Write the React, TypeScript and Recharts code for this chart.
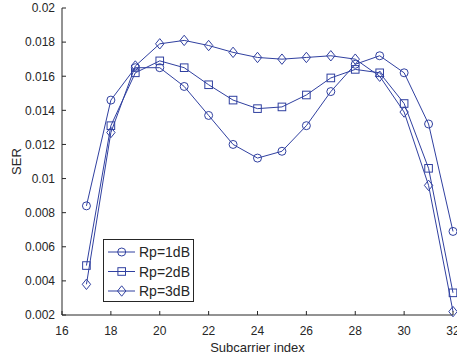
import React from "react";
import { LineChart, Line, XAxis, YAxis } from "recharts";

const subcarriers = [17, 18, 19, 20, 21, 22, 23, 24, 25, 26, 27, 28, 29, 30, 31, 32];
const ser1dB = [0.0084, 0.0146, 0.0165, 0.0165, 0.0154, 0.0137, 0.012, 0.0112, 0.0116, 0.0131, 0.0151, 0.0167, 0.0172, 0.0162, 0.0132, 0.0069];
const ser2dB = [0.0049, 0.0131, 0.0162, 0.0169, 0.0165, 0.0155, 0.0146, 0.0141, 0.0142, 0.0149, 0.0159, 0.0164, 0.0162, 0.0144, 0.0106, 0.0033];
const ser3dB = [0.0038, 0.0127, 0.0166, 0.0179, 0.0181, 0.0178, 0.0174, 0.0171, 0.017, 0.0171, 0.0172, 0.017, 0.016, 0.0139, 0.0096, 0.0022];
const seriesNames = ["Rp=1dB", "Rp=2dB", "Rp=3dB"];
const xTicks = [16, 18, 20, 22, 24, 26, 28, 30, 32];
const yTicks = [0.002, 0.004, 0.006, 0.008, 0.01, 0.012, 0.014, 0.016, 0.018, 0.02];

const data = subcarriers.map((x, i) => ({ x, a: ser1dB[i], b: ser2dB[i], c: ser3dB[i] }));

const LINE = "#3040a0";
const AXIS = "#262626";
const FONT = "'Liberation Sans', Arial, Helvetica, sans-serif";

const CircleDot = (p: any) => (
  <circle key={p.key} cx={p.cx} cy={p.cy} r={4} fill="none" stroke={LINE} strokeWidth={1} />
);
const SquareDot = (p: any) => (
  <rect key={p.key} x={p.cx - 3.8} y={p.cy - 3.8} width={7.6} height={7.6} fill="none" stroke={LINE} strokeWidth={1} />
);
const DiamondDot = (p: any) => (
  <polygon
    key={p.key}
    points={`${p.cx},${p.cy - 5.2} ${p.cx + 4.2},${p.cy} ${p.cx},${p.cy + 5.2} ${p.cx - 4.2},${p.cy}`}
    fill="none"
    stroke={LINE}
    strokeWidth={1}
  />
);

const fmt = (v: number) => String(+v.toFixed(3));

const BottomTick = (p: any) => (
  <g>
    <line x1={p.x} y1={p.y} x2={p.x} y2={p.y - 4} stroke={AXIS} strokeWidth={1} />
    <text x={p.x} y={p.y + 20} textAnchor="middle" fontSize={12} fontFamily={FONT} fill={AXIS}>
      {p.payload.value}
    </text>
  </g>
);
const TopTick = (p: any) => (
  <line x1={p.x} y1={p.y} x2={p.x} y2={p.y + 4} stroke={AXIS} strokeWidth={1} />
);
const LeftTick = (p: any) => (
  <g>
    <line x1={p.x} y1={p.y} x2={p.x + 4} y2={p.y} stroke={AXIS} strokeWidth={1} />
    <text x={p.x - 7} y={p.y} dy="0.36em" textAnchor="end" fontSize={12} fontFamily={FONT} fill={AXIS}>
      {fmt(p.payload.value)}
    </text>
  </g>
);
const RightTick = (p: any) => (
  <line x1={p.x} y1={p.y} x2={p.x - 4} y2={p.y} stroke={AXIS} strokeWidth={1} />
);

const XLabel = (p: any) => {
  const vb = p.viewBox;
  return (
    <text x={vb.x + vb.width / 2} y={352} textAnchor="middle" fontSize={13} fontFamily={FONT} fill={AXIS}>
      Subcarrier index
    </text>
  );
};
const YLabel = (p: any) => {
  const vb = p.viewBox;
  const cy = vb.y + vb.height / 2;
  return (
    <text x={21} y={cy} transform={`rotate(-90, 21, ${cy})`} textAnchor="middle" fontSize={13} fontFamily={FONT} fill={AXIS}>
      SER
    </text>
  );
};

const markers = [
  (cx: number, cy: number) => <circle cx={cx} cy={cy} r={4} fill="none" stroke={LINE} />,
  (cx: number, cy: number) => <rect x={cx - 3.8} y={cy - 3.8} width={7.6} height={7.6} fill="none" stroke={LINE} />,
  (cx: number, cy: number) => (
    <polygon points={`${cx},${cy - 5.2} ${cx + 4.2},${cy} ${cx},${cy + 5.2} ${cx - 4.2},${cy}`} fill="none" stroke={LINE} />
  ),
];

const LegendBox = () => {
  const rows = [12, 31.5, 51];
  return (
    <div
      style={{
        position: "absolute",
        left: 103,
        top: 239,
        width: 89,
        height: 61,
        border: `1px solid ${AXIS}`,
        background: "#fff",
      }}
    >
      <svg width={89} height={61} style={{ display: "block" }}>
        {seriesNames.map((name, i) => (
          <g key={name}>
            <line x1={4} y1={rows[i]} x2={31} y2={rows[i]} stroke={LINE} strokeWidth={1} />
            {markers[i](17.7, rows[i])}
            <text x={35} y={rows[i]} dy="0.36em" fontSize={14} fontFamily={FONT} fill={AXIS}>
              {name}
            </text>
          </g>
        ))}
      </svg>
    </div>
  );
};

export default function App() {
  return (
    <div style={{ position: "absolute", left: 0, top: 0, width: 457, height: 356, background: "#fff" }}>
      <LineChart width={457} height={356} data={data} margin={{ top: 8, right: 4, left: 0, bottom: 0 }}>
        <XAxis
          xAxisId="bottom"
          dataKey="x"
          type="number"
          domain={[16, 32]}
          ticks={xTicks}
          interval={0}
          height={41}
          tickSize={0}
          tickMargin={0}
          tickLine={false}
          axisLine={{ stroke: AXIS }}
          tick={BottomTick}
          label={{ content: XLabel }}
        />
        <XAxis
          xAxisId="top"
          orientation="top"
          dataKey="x"
          type="number"
          domain={[16, 32]}
          ticks={xTicks}
          interval={0}
          height={0}
          tickSize={0}
          tickMargin={0}
          tickLine={false}
          axisLine={{ stroke: AXIS }}
          tick={TopTick}
        />
        <YAxis
          yAxisId="left"
          type="number"
          domain={[0.002, 0.02]}
          ticks={yTicks}
          interval={0}
          width={62}
          tickSize={0}
          tickMargin={0}
          tickLine={false}
          axisLine={{ stroke: AXIS }}
          tick={LeftTick}
          label={{ content: YLabel }}
        />
        <YAxis
          yAxisId="right"
          orientation="right"
          type="number"
          domain={[0.002, 0.02]}
          ticks={yTicks}
          interval={0}
          width={0}
          tickSize={0}
          tickMargin={0}
          tickLine={false}
          axisLine={{ stroke: AXIS }}
          tick={RightTick}
        />
        <Line xAxisId="bottom" yAxisId="left" type="linear" dataKey="a" name={seriesNames[0]} stroke={LINE} strokeWidth={1} dot={CircleDot} isAnimationActive={false} />
        <Line xAxisId="bottom" yAxisId="left" type="linear" dataKey="b" name={seriesNames[1]} stroke={LINE} strokeWidth={1} dot={SquareDot} isAnimationActive={false} />
        <Line xAxisId="bottom" yAxisId="left" type="linear" dataKey="c" name={seriesNames[2]} stroke={LINE} strokeWidth={1} dot={DiamondDot} isAnimationActive={false} />
      </LineChart>
      <LegendBox />
    </div>
  );
}
